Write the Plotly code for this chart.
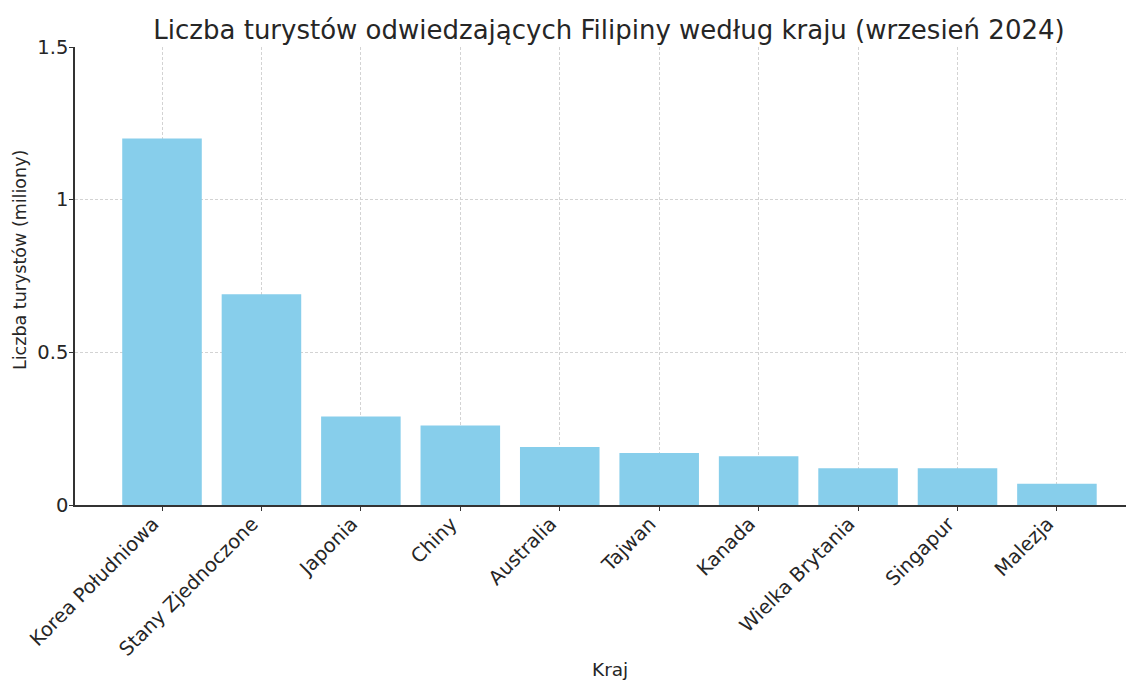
import plotly.graph_objects as go

countries = ["Korea Południowa", "Stany Zjednoczone", "Japonia", "Chiny", "Australia",
             "Tajwan", "Kanada", "Wielka Brytania", "Singapur", "Malezja"]
tourists_mln = [1.2, 0.69, 0.29, 0.26, 0.19, 0.17, 0.16, 0.12, 0.12, 0.07]

y_ticks = [0, 0.5, 1, 1.5]
y_tick_labels = ["0", "0.5", "1", "1.5"]

title_text = "Liczba turystów odwiedzających Filipiny według kraju (wrzesień 2024)"
x_title = "Kraj"
y_title = "Liczba turystów (miliony)"

FONT = "DejaVu Sans"
TXT = "#262626"

# the page body has an 8px margin; figure is sized/offset to compensate
OFF = 8
W, H = 1134 - OFF, 682 - OFF
ml, mr, mt, mb = 75 - OFF, 0, 47 - OFF, 177
pw, ph = W - ml - mr, H - mt - mb

fig = go.Figure(
    go.Bar(
        x=list(range(len(countries))),
        y=tourists_mln,
        width=0.8,
        marker=dict(color="#87CEEB", line=dict(width=0)),
    )
)

fig.update_layout(
    width=W, height=H,
    margin=dict(l=ml, r=mr, t=mt, b=mb),
    plot_bgcolor="white", paper_bgcolor="white",
    font=dict(family=FONT, color=TXT, size=18),
    showlegend=False,
    title=dict(text=title_text, font=dict(size=26, color=TXT, family=FONT),
               x=(609 - OFF) / W, xref="container", xanchor="center",
               y=1 - (30 - OFF) / H, yanchor="middle", yref="container"),
)

fig.update_xaxes(
    range=[-0.875, 9.775],
    tickmode="array",
    tickvals=list(range(len(countries))),
    ticktext=countries,
    tickangle=-45,
    tickfont=dict(size=19.5, color=TXT, family=FONT),
    ticklabelshift=-9, ticklabelstandoff=-6,
    showline=True, linecolor="#333333", linewidth=1.5,
    ticks="outside", ticklen=4, tickwidth=1.2, tickcolor="#333333",
    showgrid=True, gridcolor="#d3d3d3", gridwidth=1, griddash="3px,2px",
    zeroline=False, automargin=False,
)
fig.update_yaxes(
    range=[0, 1.5],
    tickmode="array",
    tickvals=y_ticks,
    ticktext=y_tick_labels,
    tickfont=dict(size=19.5, color=TXT, family=FONT),
    ticklabelstandoff=-3,
    showline=True, linecolor="#333333", linewidth=1.5,
    ticks="outside", ticklen=4, tickwidth=1.2, tickcolor="#333333",
    showgrid=True, gridcolor="#d3d3d3", gridwidth=1, griddash="3px,2px",
    zeroline=False, automargin=False,
)

fig.add_annotation(text=x_title, xref="paper", yref="paper",
                   x=(610 - 75) / pw, y=-(669 - 505) / ph,
                   xanchor="center", yanchor="middle", showarrow=False,
                   font=dict(size=18.5, color=TXT, family=FONT))
fig.add_annotation(text=y_title, xref="paper", yref="paper",
                   x=(20 - 75) / pw, y=(505 - 260) / ph, textangle=-90,
                   xanchor="center", yanchor="middle", showarrow=False,
                   font=dict(size=17.5, color=TXT, family=FONT))

fig.write_html("out.html")
